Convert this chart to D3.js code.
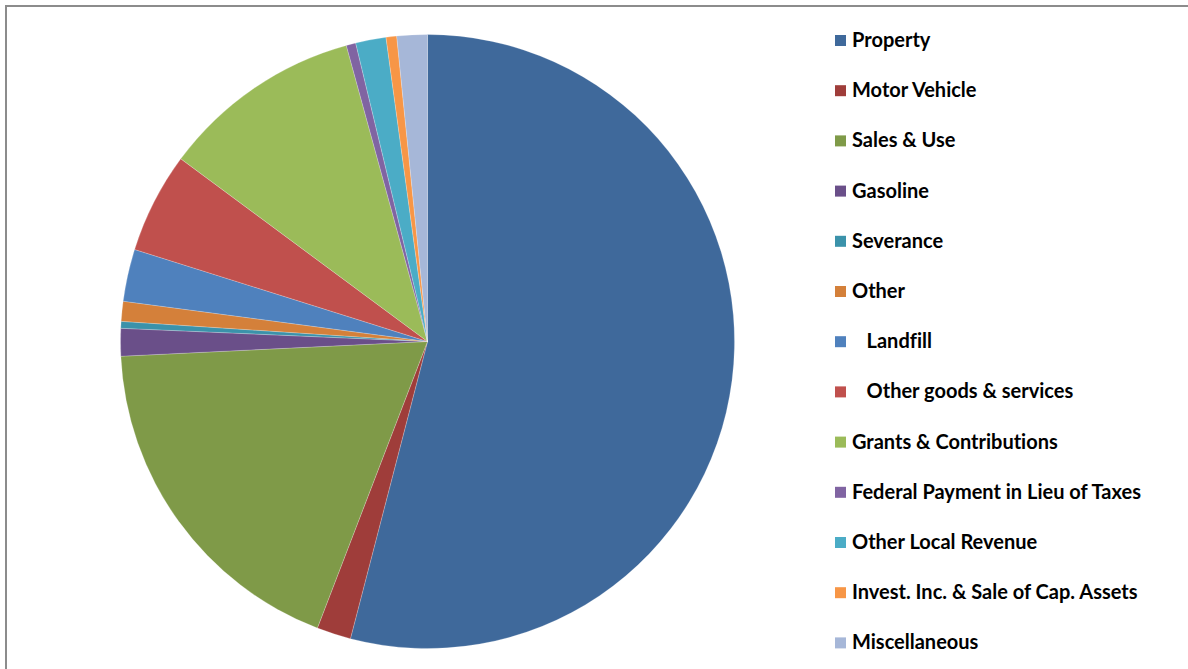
<!DOCTYPE html>
<html lang="en">
<head>
  <meta charset="UTF-8">
  <title>Revenue by Source</title>
  <script src="https://cdn.jsdelivr.net/npm/d3@7/dist/d3.min.js"></script>
  <style>
    html, body {
      margin: 0;
      padding: 0;
      background: #fff;
    }
    .legend-label {
      font-family: Lato, "Open Sans", sans-serif;
      font-weight: bold;
      font-size: 20px;
      font-variant-ligatures: none;
      fill: #000;
      white-space: pre;
    }
  </style>
</head>
<body>
  <div id="chart"></div>

  <script>
    // Revenue sources (percent of total)
    const categories = [
      "Property",
      "Motor Vehicle",
      "Sales & Use",
      "Gasoline",
      "Severance",
      "Other",
      "   Landfill",
      "   Other goods & services",
      "Grants & Contributions",
      "Federal Payment in Lieu of Taxes",
      "Other Local Revenue",
      "Invest. Inc. & Sale of Cap. Assets",
      "Miscellaneous"
    ];
    const values = [54.05, 1.8, 18.4, 1.45, 0.36, 1.05, 2.75, 5.3, 10.6, 0.5, 1.6, 0.56, 1.6];
    const colors = [
      "#3f699b", "#9f3d3a", "#7f9a48", "#6a4f89", "#3b92aa", "#d4803a",
      "#4f81bd", "#c0504d", "#9bbb59", "#8064a2", "#4bacc6", "#f79646", "#a6b7d8"
    ];

    const width = 1188;
    const height = 669;
    const cx = 427.5, cy = 341.5, radius = 307;

    const svg = d3.select("#chart")
      .append("svg")
      .attr("width", width)
      .attr("height", height);

    // chart frame (top and left edges are visible)
    svg.append("rect")
      .attr("x", 6)
      .attr("y", 6)
      .attr("width", width + 10)
      .attr("height", height + 10)
      .attr("fill", "none")
      .attr("stroke", "#8c8c8c")
      .attr("stroke-width", 2);

    const color = d3.scaleOrdinal().domain(categories).range(colors);

    const pie = d3.pie().sort(null).value(d => d.value);
    const arc = d3.arc().innerRadius(0).outerRadius(radius);

    const data = categories.map((c, i) => ({ name: c, value: values[i] }));

    svg.append("g")
      .attr("transform", `translate(${cx},${cy})`)
      .selectAll("path")
      .data(pie(data))
      .enter()
      .append("path")
      .attr("d", arc)
      .attr("fill", d => color(d.data.name))
      .attr("stroke", "#ffffff")
      .attr("stroke-opacity", 0.35)
      .attr("stroke-width", 0.6);

    // Legend
    const legendX = 835, legendY = 40, rowH = 50.2;
    const legend = svg.append("g").attr("class", "legend");

    legend.selectAll("rect")
      .data(categories)
      .enter()
      .append("rect")
      .attr("x", legendX)
      .attr("y", (d, i) => legendY + i * rowH - 5)
      .attr("width", 11)
      .attr("height", 11)
      .attr("fill", d => color(d));

    legend.selectAll("text")
      .data(categories)
      .enter()
      .append("text")
      .attr("class", "legend-label")
      .attr("x", legendX + 17)
      .attr("y", (d, i) => legendY + i * rowH + 7)
      .text(d => d);
  </script>
</body>
</html>
